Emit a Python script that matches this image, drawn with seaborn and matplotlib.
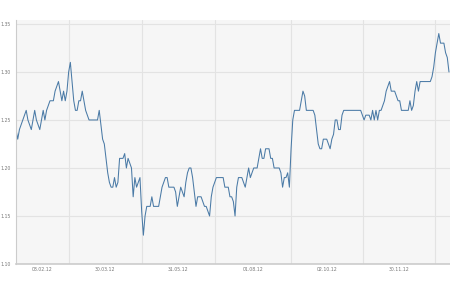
import numpy as np
import pandas as pd
import seaborn as sns
import matplotlib.pyplot as plt
from matplotlib.ticker import FixedLocator, FixedFormatter, NullFormatter

# closing price per trading day
price = [
    1.24, 1.23, 1.24, 1.245, 1.25, 1.255, 1.26, 1.25, 1.245, 1.24,
    1.25, 1.26, 1.25, 1.245, 1.24, 1.25, 1.26, 1.25, 1.26, 1.265,
    1.27, 1.27, 1.27, 1.28, 1.285, 1.29, 1.28, 1.27, 1.28, 1.27,
    1.28, 1.30, 1.31, 1.29, 1.27, 1.26, 1.26, 1.27, 1.27, 1.28,
    1.27, 1.26, 1.255, 1.25, 1.25, 1.25, 1.25, 1.25, 1.25, 1.26,
    1.245, 1.23, 1.225, 1.21, 1.195, 1.185, 1.18, 1.18, 1.19, 1.18,
    1.185, 1.21, 1.21, 1.21, 1.215, 1.20, 1.21, 1.205, 1.20, 1.17,
    1.19, 1.18, 1.185, 1.19, 1.155, 1.13, 1.15, 1.16, 1.16, 1.16,
    1.17, 1.16, 1.16, 1.16, 1.16, 1.17, 1.18, 1.185, 1.19, 1.19,
    1.18, 1.18, 1.18, 1.18, 1.175, 1.16, 1.17, 1.18, 1.175, 1.17,
    1.185, 1.195, 1.20, 1.20, 1.19, 1.175, 1.16, 1.17, 1.17, 1.17,
    1.165, 1.16, 1.16, 1.155, 1.15, 1.17, 1.18, 1.185, 1.19, 1.19,
    1.19, 1.19, 1.19, 1.18, 1.18, 1.18, 1.17, 1.17, 1.165, 1.15,
    1.18, 1.19, 1.19, 1.19, 1.185, 1.18, 1.19, 1.20, 1.19, 1.195,
    1.20, 1.20, 1.20, 1.21, 1.22, 1.21, 1.21, 1.22, 1.22, 1.22,
    1.21, 1.21, 1.20, 1.20, 1.20, 1.20, 1.195, 1.18, 1.19, 1.19,
    1.195, 1.18, 1.22, 1.25, 1.26, 1.26, 1.26, 1.26, 1.27, 1.28,
    1.275, 1.26, 1.26, 1.26, 1.26, 1.26, 1.255, 1.24, 1.225, 1.22,
    1.22, 1.23, 1.23, 1.23, 1.225, 1.22, 1.23, 1.235, 1.25, 1.25,
    1.24, 1.24, 1.255, 1.26, 1.26, 1.26, 1.26, 1.26, 1.26, 1.26,
    1.26, 1.26, 1.26, 1.26, 1.255, 1.25, 1.255, 1.255, 1.255, 1.25,
    1.26, 1.25, 1.26, 1.25, 1.26, 1.26, 1.265, 1.27, 1.28, 1.285,
    1.29, 1.28, 1.28, 1.28, 1.275, 1.27, 1.27, 1.26, 1.26, 1.26,
    1.26, 1.26, 1.27, 1.26, 1.265, 1.28, 1.29, 1.28, 1.29, 1.29,
    1.29, 1.29, 1.29, 1.29, 1.29, 1.295, 1.305, 1.32, 1.33, 1.34,
    1.33, 1.33, 1.33, 1.32, 1.315, 1.30,
]
day = np.arange(len(price))

# date labels sit between the vertical grid lines (trading-day index)
date_labels = ["08.02.12", "30.03.12", "31.05.12", "01.08.12", "02.10.12", "30.11.12"]
label_days = [15.3, 52.6, 95.6, 139.6, 183.2, 225.6]
grid_days = [31.2, 74.2, 117.2, 162.0, 204.3, 246.8]
y_ticks = [1.10, 1.15, 1.20, 1.25, 1.30, 1.35]

df = pd.DataFrame({"day": day, "price": price})

sns.set_style("white")
fig = plt.figure(figsize=(4.5, 3), dpi=100)
ax = fig.add_axes([0.0356, 0.12, 0.9644, 0.813])
ax.set_facecolor("#f6f6f6")

sns.lineplot(data=df, x="day", y="price", ax=ax, color="#4a7aa6", linewidth=0.75)

ax.set_xlim(0, 255.6)
ax.set_ylim(1.10, 1.354)

# grid
ax.xaxis.set_major_locator(FixedLocator(grid_days))
ax.xaxis.set_major_formatter(NullFormatter())
ax.xaxis.set_minor_locator(FixedLocator(label_days))
ax.xaxis.set_minor_formatter(FixedFormatter(date_labels))
ax.set_yticks(y_ticks)
ax.set_yticklabels([f"{v:.2f}" for v in y_ticks])
ax.grid(True, which="major", color="#e3e3e3", linewidth=0.8)
ax.set_axisbelow(True)

ax.tick_params(axis="x", which="both", length=0, pad=2, labelsize=3.3, labelcolor="#777777")
ax.tick_params(axis="y", length=3, width=0.6, color="#999999", pad=1, labelsize=3.3, labelcolor="#777777")

for side in ["top", "right"]:
    ax.spines[side].set_visible(False)
ax.spines["left"].set_color("#cccccc")
ax.spines["bottom"].set_color("#cccccc")
ax.spines["left"].set_linewidth(0.8)
ax.spines["bottom"].set_linewidth(1.2)

ax.set_xlabel("")
ax.set_ylabel("")

fig.savefig("out.png", dpi=100)
